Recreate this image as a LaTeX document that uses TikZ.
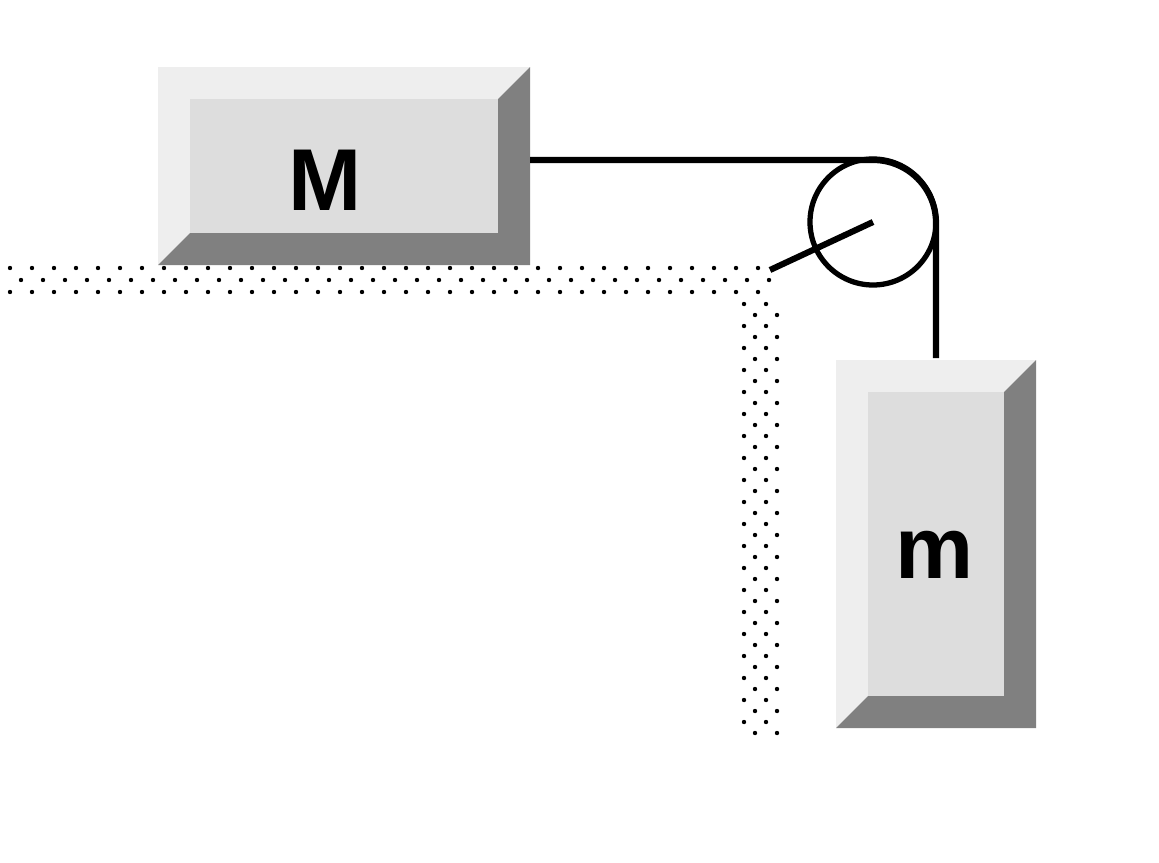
\documentclass[tikz,border=0pt]{standalone}
\usepackage{fontspec}
\setmainfont{Liberation Sans}
\definecolor{lightface}{HTML}{EEEEEE}
\definecolor{frontface}{HTML}{DDDDDD}
\definecolor{shadeface}{HTML}{808080}
% bevelled block: corner (x1,y1), far corner (x2,y2), bevel w
\newcommand{\bevelblock}[5]{
	\fill[lightface] (#1,#2) -- (#3,#2) -- (#3-#5,#2+#5) -- (#1+#5,#2+#5) -- (#1+#5,#4-#5) -- (#1,#4) -- cycle;
	\fill[shadeface] (#3,#2) -- (#3,#4) -- (#1,#4) -- (#1+#5,#4-#5) -- (#3-#5,#4-#5) -- (#3-#5,#2+#5) -- cycle;
	\fill[frontface] (#1+#5,#2+#5) rectangle (#3-#5,#4-#5);
}
\begin{document}
\begin{tikzpicture}[x=0.02cm,y=-0.02cm,
	mass/.style={font=\fontsize{50}{52}\selectfont\bfseries},
	rope/.style={line width=3.5pt}]
\useasboundingbox (0,0) rectangle (1159,862);
% surface dots
\foreach \r in {0,...,2} {
	\foreach \c in {0,...,34} {
		\pgfmathsetmacro{\xx}{10+\c*22+mod(\r,2)*11}
		\fill (\xx,268+\r*12) circle (2.2);
	}
}
\foreach \r in {0,...,39} {
	\foreach \c in {0,1} {
		\pgfmathsetmacro{\xx}{744+\c*22+mod(\r,2)*11}
		\fill (\xx,304+\r*11) circle (2.2);
	}
}
% blocks
\bevelblock{158}{67}{530}{265}{32}
\bevelblock{836}{360}{1036}{728}{32}
\node[mass] (bigM) at (325,180) {M};
\node[mass] (smallm) at (935,555) {m};
% pulley
\coordinate (axle) at (873,222);
\coordinate (mount) at (770,270);
\draw[line width=3pt] (axle) circle (63);
\draw[rope] (mount) -- (axle);
\coordinate (ropeA) at (530,160);
\coordinate (ropeB) at (873,160);
\coordinate (ropeC) at (936,222);
\coordinate (ropeD) at (936,358);
\draw[rope] (ropeA) -- (ropeB) arc (-90:0:63) -- (ropeD);
\end{tikzpicture}
\end{document}
